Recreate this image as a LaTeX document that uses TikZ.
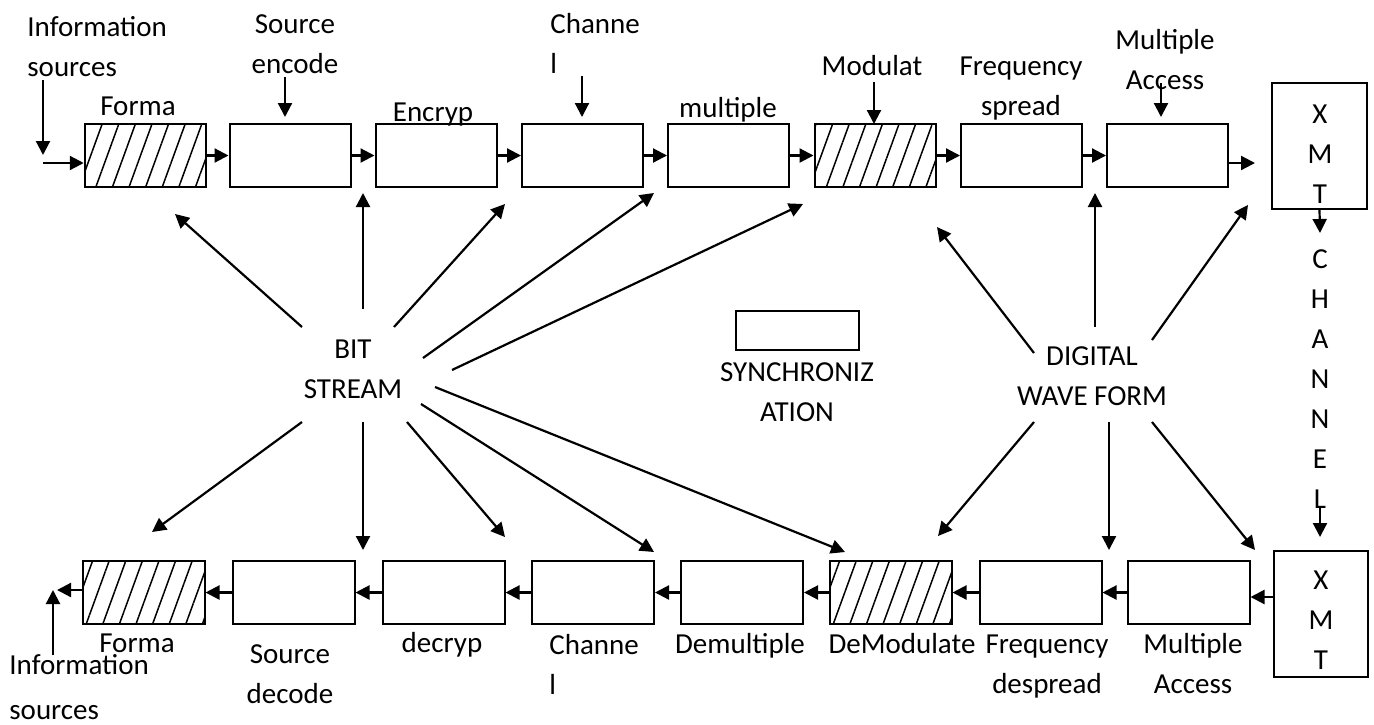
\documentclass[tikz,border=0pt]{standalone}
\usepackage{fontspec}
\setmainfont{Carlito}
\usetikzlibrary{arrows.meta,patterns.meta}

\begin{document}
\begin{tikzpicture}[x=0.5pt, y=-0.5pt,
    font=\fontsize{14.5}{20}\selectfont,
    blk/.style={draw, line width=1pt, minimum width=60.5pt, minimum height=31.5pt, inner sep=0pt},
    hblk/.style={blk, pattern={Lines[angle=70,distance=7.8pt,line width=0.75pt]}},
    arr/.style={-{Triangle[length=7pt,width=7pt]}, line width=1.1pt},
    lbl/.style={anchor=base, align=center, inner sep=0pt},
    lbll/.style={anchor=base west, align=left, inner sep=0pt}]
  \useasboundingbox (0,0) rectangle (1374,724);

  % transmit chain
  \foreach \n/\x/\s in {tfmt/145/hblk, tsrc/290/blk, tenc/436/blk, tchn/582.5/blk,
      tmux/728.5/blk, tmod/875/hblk, tfsp/1021.5/blk, tmac/1167.5/blk}
    \node[\s] (\n) at (\x,155.5) {};
  \node[blk, minimum width=47.5pt, minimum height=63pt] (txmt) at (1319.5,146) {};
  \foreach \a/\b in {tfmt/tsrc, tsrc/tenc, tenc/tchn, tchn/tmux, tmux/tmod, tmod/tfsp, tfsp/tmac}
    \draw[arr] (\a) -- (\b);

  % receive chain
  \foreach \n/\x/\s in {bfmt/143.5/hblk, bsrc/293.5/blk, bdec/443.5/blk, bchn/593/blk,
      bmux/742/blk, bmod/890.5/hblk, bfsp/1040.5/blk, bmac/1188.5/blk}
    \node[\s, minimum width=61pt] (\n) at (\x,592.5) {};
  \node[blk, minimum width=47pt, minimum height=63pt] (bxmt) at (1321,614) {};
  \foreach \a/\b in {bmac/bfsp, bfsp/bmod, bmod/bmux, bmux/bchn, bchn/bdec, bdec/bsrc, bsrc/bfmt}
    \draw[arr] (\a) -- (\b);

  \node[draw, line width=1pt, minimum width=61.5pt, minimum height=19.5pt] (sync) at (797.5,330.5) {};

  % labels (base = last line)
  \node[lbll] (tinfo) at (27,76) {Information\\sources};
  \node[lbl] (tfmtl) at (138,115) {Forma};
  \node[lbl] (tsrcl) at (295,73) {Source\\encode};
  \node[lbl] (tencl) at (433,121) {Encryp};
  \node[lbll] (tchnl) at (550,73) {Channe\\l};
  \node[lbl] (tmuxl) at (728,117) {multiple};
  \node[lbl] (tmodl) at (872,75) {Modulat};
  \node[lbl] (tfspl) at (1021,115) {Frequency\\spread};
  \node[lbl] (tmacl) at (1165,89) {Multiple\\Access};
  \node[lbl] (txmtl) at (1320,203) {X\\M\\T};
  \node[lbl] (chl) at (1320,508) {C\\H\\A\\N\\N\\E\\L};
  \node[lbl] (bxmtl) at (1321,669) {X\\M\\T};
  \node[lbl] (bfmtl) at (137,652) {Forma};
  \node[lbll] (binfo) at (9,719) {Information\\[2.5pt]sources};
  \node[lbl] (bsrcl) at (290,703) {Source\\decode};
  \node[lbl] (bdecl) at (442,652) {decryp};
  \node[lbll] (bchnl) at (549,694) {Channe\\l};
  \node[lbl] (bmuxl) at (740,653) {Demultiple};
  \node[lbl] (bmodl) at (902,653) {DeModulate};
  \node[lbl] (bfspl) at (1047,693) {Frequency\\despread};
  \node[lbl] (bmacl) at (1193,693) {Multiple\\Access};
  \node[lbl] (bit) at (353,398) {BIT\\STREAM};
  \node[lbl] (dwf) at (1092,405) {DIGITAL\\WAVE FORM};
  \node[lbl] (syncl) at (797,421) {SYNCHRONIZ\\ATION};

  % free ends of the short feeds
  \foreach \n/\x/\y in {ia/43/80, ib/43/155, ic/43/163, sa/285/77, sb/285/117,
      ca/582/76, cb/582/117, ma/874/82, mb/874/124, aa/1161/83, ab/1161/117,
      xa/1255/163, ka/1320/233, kb/1320/507, kc/1320/537, xb/1274/597,
      oa/57/590, ua/53/655, ub/53/590}
    \coordinate (\n) at (\x,\y);
  \draw[arr] (ia) -- (ib);
  \draw[arr] (ic) -- (tfmt.west |- ic);
  \draw[arr] (sa) -- (sb);
  \draw[arr] (ca) -- (cb);
  \draw[arr] (ma) -- (mb);
  \draw[arr] (aa) -- (ab);
  \draw[arr] (tmac.east |- xa) -- (xa);
  \draw[arr] (txmt.south) -- (ka);
  \draw[arr] (kb) -- (kc);
  \draw[arr] (xb) -- (bmac.east |- xb);
  \draw[arr] (bfmt.west |- oa) -- (oa);
  \draw[arr] (ua) -- (ub);

  % bit stream fan
  \foreach \i/\sx/\sy/\ex/\ey in {1/302/327/175/214, 2/363/309/363/193, 3/394/327/505/204,
      4/423/358/654/193, 5/452/370/803/204, 6/302/422/152/532, 7/363/422/363/550,
      8/407/422/505/537, 9/421/404/654/552, 10/435/387/845/552} {
    \coordinate (bs\i) at (\sx,\sy);
    \coordinate (be\i) at (\ex,\ey);
    \draw[arr] (bs\i) -- (be\i);
  }

  % digital wave form fan
  \foreach \i/\sx/\sy/\ex/\ey in {1/1034/353/937/227, 2/1095/327/1095/193, 3/1152/340/1248/205,
      4/1034/422/938/536, 5/1109/422/1109/550, 6/1152/422/1255/550} {
    \coordinate (ds\i) at (\sx,\sy);
    \coordinate (de\i) at (\ex,\ey);
    \draw[arr] (ds\i) -- (de\i);
  }
\end{tikzpicture}
\end{document}
